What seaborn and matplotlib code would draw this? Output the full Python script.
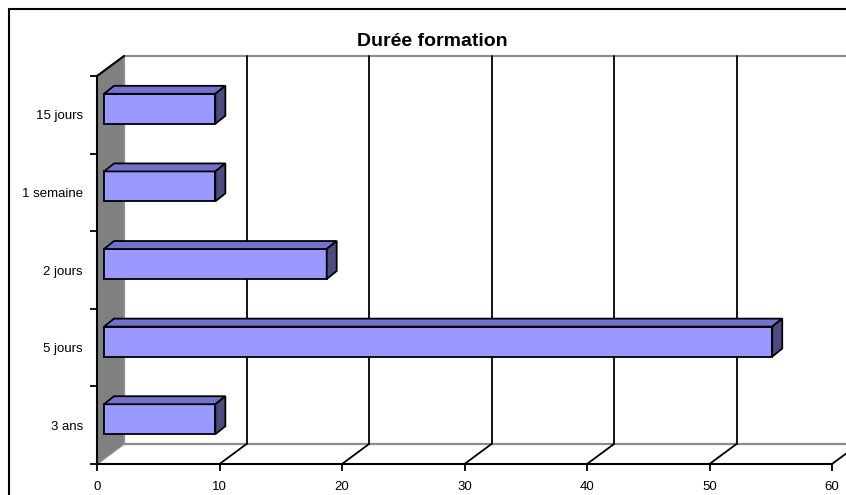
import matplotlib
matplotlib.use('Agg')
import matplotlib.pyplot as plt
import seaborn as sns
import pandas as pd
from matplotlib.patches import Polygon, Rectangle
from matplotlib.transforms import ScaledTranslation, IdentityTransform
from matplotlib.lines import Line2D

# ---- data ----
categories = ['15 jours', '1 semaine', '2 jours', '5 jours', '3 ans']
values = [9.09, 9.09, 18.18, 54.55, 9.09]
x_ticks = [0, 10, 20, 30, 40, 50, 60]
title = 'Durée formation'

sns.set_theme(style='white')
plt.rcParams['font.family'] = ['Liberation Sans', 'DejaVu Sans']

W, H = 846, 495
fig = plt.figure(figsize=(W / 100, H / 100), dpi=100)
fig.patch.set_facecolor('white')
X0, X1, YT, YB = 97, 832, 76, 464
ax = fig.add_axes([X0 / W, 1 - YB / H, (X1 - X0) / W, (YB - YT) / H])
ax.patch.set_visible(False)

df = pd.DataFrame({'cat': categories, 'val': values})
sns.barplot(data=df, x='val', y='cat', order=categories, orient='h',
            color='#9999FF', saturation=1, width=0.386,
            edgecolor='black', linewidth=1.3, ax=ax)
bars = list(ax.patches)
ax.set_xlim(0, 60)
ax.set_ylim(4.5, -0.5)

DX, DY = 27, 20        # wall depth (pixels)
BFX, BFY = 7, 6        # bar front-face depth
BDX, BDY = 10, 8       # bar depth


def D(x, y, dx=0, dy=0):
    p = ax.transData.transform((x, y))
    return (p[0] + dx, p[1] + dy)


def poly(pts, **kw):
    ax.add_patch(Polygon(pts, closed=True, transform=IdentityTransform(),
                         clip_on=False, **kw))


def line(p, q, **kw):
    ax.add_line(Line2D([p[0], q[0]], [p[1], q[1]], transform=IdentityTransform(),
                       clip_on=False, **kw))


XMAX = 62
# back wall and floor
poly([D(0, -0.5, DX, DY), D(XMAX, -0.5, DX, DY), D(XMAX, 4.5, DX, DY), D(0, 4.5, DX, DY)],
     fc='white', ec='none', zorder=0.5)
poly([D(0, 4.5), D(XMAX, 4.5), D(XMAX, 4.5, DX, DY), D(0, 4.5, DX, DY)],
     fc='white', ec='none', zorder=0.6)
# left wall
poly([D(0, -0.5), D(0, -0.5, DX, DY), D(0, 4.5, DX, DY), D(0, 4.5)],
     fc='#808080', ec='none', zorder=0.8)

grey = '#8c8c8c'
line(D(0, -0.5, DX, DY), D(XMAX, -0.5, DX, DY), color=grey, lw=1.6, zorder=0.9)
line(D(0, 4.5, DX, DY), D(XMAX, 4.5, DX, DY), color=grey, lw=1.6, zorder=0.9)
line(D(0, -0.5, DX, DY), D(0, 4.5, DX, DY), color=grey, lw=1.6, zorder=0.9)
line(D(0, 4.5), D(0, 4.5, DX, DY), color=grey, lw=1.2, zorder=0.9)
line(D(0, -0.5), D(0, -0.5, DX, DY), color='black', lw=1.5, zorder=0.95)
for k in x_ticks[1:-1]:
    line(D(k, -0.5, DX, DY), D(k, 4.5, DX, DY), color='black', lw=1.3, zorder=0.9)
for k in x_ticks[1:]:
    line(D(k, 4.5), D(k, 4.5, DX, DY), color='black', lw=1.3, zorder=0.9)

# 3D bars
off = ScaledTranslation(BFX / 100, BFY / 100, fig.dpi_scale_trans)
top_c, side_c = '#7272CC', '#4C4C82'
for p in bars:
    p.set_transform(ax.transData + off)
    p.set_zorder(3)
    p.set_clip_on(False)
    x0, w = p.get_x(), p.get_width()
    y0, h = p.get_y(), p.get_height()
    ytop, ybot = min(y0, y0 + h), max(y0, y0 + h)
    TL = D(x0, ytop, BFX, BFY)
    TR = D(x0 + w, ytop, BFX, BFY)
    BR = D(x0 + w, ybot, BFX, BFY)
    poly([TL, TR, (TR[0] + BDX, TR[1] + BDY), (TL[0] + BDX, TL[1] + BDY)],
         fc=top_c, ec='black', lw=1.3, zorder=3)
    poly([TR, BR, (BR[0] + BDX, BR[1] + BDY), (TR[0] + BDX, TR[1] + BDY)],
         fc=side_c, ec='black', lw=1.3, zorder=3)

# axes styling
for s in ['top', 'right']:
    ax.spines[s].set_visible(False)
for s in ['left', 'bottom']:
    ax.spines[s].set_color('black')
    ax.spines[s].set_linewidth(1.5)
    ax.spines[s].set_zorder(2.5)

ax.set_xticks(x_ticks)
ax.set_xticklabels([str(t) for t in x_ticks])
ax.tick_params(axis='x', bottom=True, length=5, width=1.3, color='black',
               direction='out', pad=7, labelsize=9.5, labelcolor='black')
ax.set_yticks(range(len(categories)))
ax.set_yticklabels(categories)
ax.set_yticks([i - 0.5 for i in range(len(categories) + 1)], minor=True)
ax.tick_params(axis='y', which='major', left=False, length=0, pad=10,
               labelsize=9.5, labelcolor='black')
ax.tick_params(axis='y', which='minor', left=True, length=5, width=1.3,
               color='black', direction='out')
ax.set_xlabel('')
ax.set_ylabel('')

# outer border
fig.add_artist(Rectangle((9, -20), 900, 486 + 20, transform=IdentityTransform(),
                         fill=False, ec='black', lw=1.5))

fig.text(432 / W, (H - 42) / H, title, ha='center', va='center',
         fontsize=14, fontweight='bold', color='black')

fig.savefig('out.png', dpi=100, facecolor='white')
